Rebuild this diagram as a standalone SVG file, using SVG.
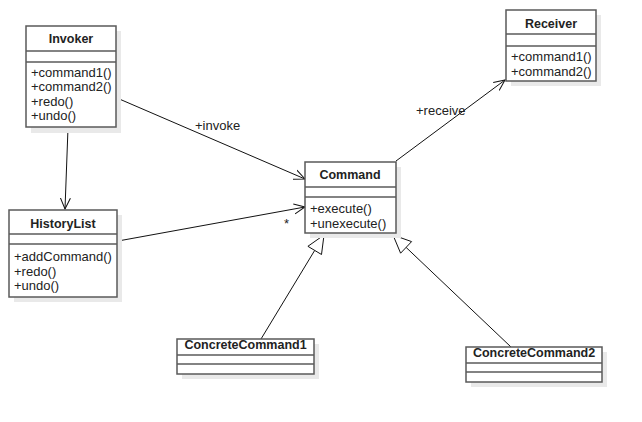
<svg xmlns="http://www.w3.org/2000/svg" width="642" height="422" viewBox="0 0 642 422">
<defs>
<style>
.sh{fill:#e9e9e9;stroke:none}
.bx{fill:#fff;stroke:#5a5a5a;stroke-width:1.5}
.dv{stroke:#5a5a5a;stroke-width:1.5}
.t{font-family:"Liberation Sans",Arial,sans-serif;font-size:13px;fill:#222}
.b{font-weight:bold;text-anchor:middle;font-size:12.5px}
.ln{stroke:#111;stroke-width:1;fill:none}
.tri{fill:#fff;stroke:#111;stroke-width:1}
</style>
<marker id="open" viewBox="0 0 12 12" refX="11" refY="6" markerWidth="12" markerHeight="12" markerUnits="userSpaceOnUse" orient="auto">
<path d="M0,1 L11,6 L0,11" fill="none" stroke="#111" stroke-width="1"/>
</marker>
</defs>
<rect width="642" height="422" fill="#fff"/>
<g id="connectors">
<line class="ln" x1="117" y1="98" x2="305" y2="179" marker-end="url(#open)"/>
<text class="t" x="195" y="130">+invoke</text>
<line class="ln" x1="118" y1="241" x2="305" y2="207" marker-end="url(#open)"/>
<text class="t" x="284" y="228">*</text>
<line class="ln" x1="68" y1="128" x2="65" y2="209" marker-end="url(#open)"/>
<line class="ln" x1="396" y1="161" x2="505" y2="80" marker-end="url(#open)"/>
<text class="t" x="416" y="115">+receive</text>
<line class="ln" x1="314.7" y1="250.4" x2="261" y2="339"/>
<polygon class="tri" points="324,235 307.9,246.3 321.5,254.5"/>
<line class="ln" x1="406.1" y1="247.4" x2="511" y2="347"/>
<polygon class="tri" points="393,235 400.6,253.2 411.6,241.6"/>
</g>
<g id="invoker">
<rect class="sh" x="31" y="31" width="90" height="102"/>
<rect class="bx" x="26" y="26" width="90" height="101"/>
<line class="dv" x1="26" y1="51" x2="116" y2="51"/>
<line class="dv" x1="26" y1="62" x2="116" y2="62"/>
<text class="t b" x="71" y="43">Invoker</text>
<text class="t" x="31" y="76.5">+command1()</text>
<text class="t" x="31" y="91">+command2()</text>
<text class="t" x="31" y="105.5">+redo()</text>
<text class="t" x="31" y="120">+undo()</text>
</g>
<g id="receiver">
<rect class="sh" x="511" y="15" width="90" height="71"/>
<rect class="bx" x="506" y="10" width="90" height="71"/>
<line class="dv" x1="506" y1="34" x2="596" y2="34"/>
<line class="dv" x1="506" y1="46" x2="596" y2="46"/>
<text class="t b" x="551" y="28">Receiver</text>
<text class="t" x="511" y="61">+command1()</text>
<text class="t" x="511" y="75.5">+command2()</text>
</g>
<g id="command">
<rect class="sh" x="310" y="167" width="91" height="71"/>
<rect class="bx" x="305" y="162" width="91" height="71"/>
<line class="dv" x1="305" y1="187" x2="396" y2="187"/>
<line class="dv" x1="305" y1="197" x2="396" y2="197"/>
<text class="t b" x="350" y="179">Command</text>
<text class="t" x="310" y="213">+execute()</text>
<text class="t" x="310" y="227.5">+unexecute()</text>
</g>
<g id="historylist">
<rect class="sh" x="14" y="215" width="108" height="87"/>
<rect class="bx" x="9" y="210" width="108" height="87"/>
<line class="dv" x1="9" y1="234" x2="117" y2="234"/>
<line class="dv" x1="9" y1="244" x2="117" y2="244"/>
<text class="t b" x="63" y="228">HistoryList</text>
<text class="t" x="14" y="260.5">+addCommand()</text>
<text class="t" x="14" y="275.5">+redo()</text>
<text class="t" x="14" y="290">+undo()</text>
</g>
<g id="concretecommand1">
<rect class="sh" x="182" y="344" width="137" height="35"/>
<rect class="bx" x="177" y="339" width="137" height="35"/>
<line class="dv" x1="177" y1="355" x2="314" y2="355"/>
<line class="dv" x1="177" y1="364" x2="314" y2="364"/>
<text class="t b" x="245.5" y="349">ConcreteCommand1</text>
</g>
<g id="concretecommand2">
<rect class="sh" x="471" y="352" width="136" height="35"/>
<rect class="bx" x="466" y="347" width="136" height="35"/>
<line class="dv" x1="466" y1="363" x2="602" y2="363"/>
<line class="dv" x1="466" y1="372" x2="602" y2="372"/>
<text class="t b" x="534" y="357">ConcreteCommand2</text>
</g>
</svg>
